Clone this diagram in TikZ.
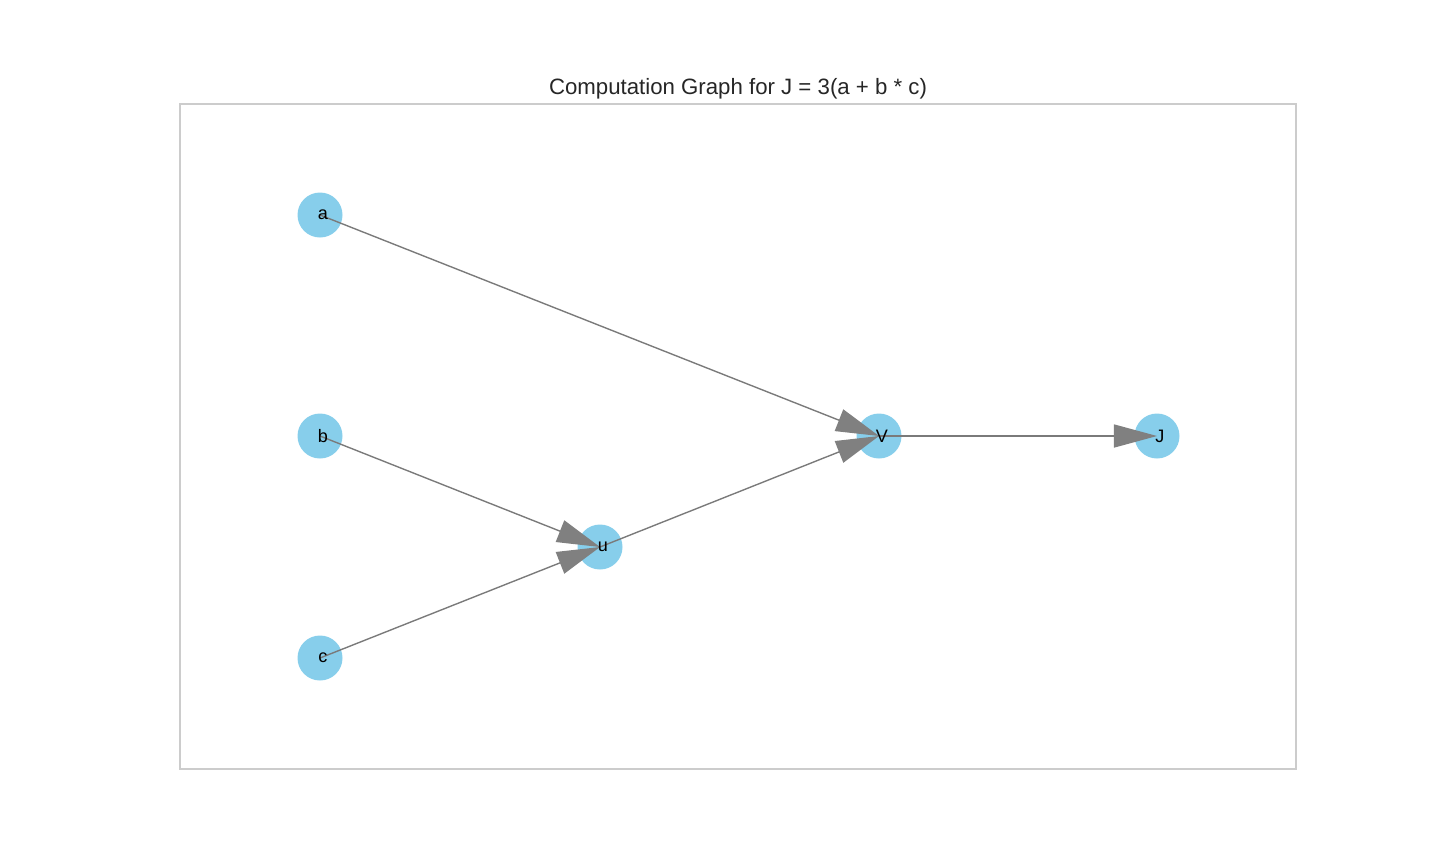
\documentclass[tikz,border=0pt]{standalone}
\usepackage{fontspec}
\setmainfont{Liberation Sans}
\usetikzlibrary{arrows.meta}
\definecolor{skyblue}{HTML}{87CEEB}
\definecolor{edgegray}{HTML}{7A7A7A}
\definecolor{framegray}{HTML}{CCCCCC}
\definecolor{titlegray}{HTML}{262626}
\tikzset{
  varnode/.style={circle, fill=skyblue, minimum size=32.4pt, inner sep=0pt},
  varlabel/.style={font=\fontsize{13}{15}\selectfont, text=black, inner sep=0pt},
  flow/.style={edgegray, line width=1pt,
    -{Triangle[length=31pt, width=16.6pt, fill=gray, color=gray]}}
}
\begin{document}
\begin{tikzpicture}[x=0.72pt, y=-0.72pt]
        \useasboundingbox (0,0) rectangle (1440,864);
        %%%%%%%%%%%%%%%%%%%%%%%% Marco y titulo %%%%%%%%%%%%%%%%%%%%%%%%%%%%%%%%%%%
        \draw[framegray, line width=1.4pt] (180,104) rectangle (1296,769);
        \node[titlegray, font=\fontsize{16}{19}\selectfont] (titulo) at (738,89) {Computation Graph for J = 3(a + b * c)};
        %%%%%%%%%%%%%%%%%%%%%%%% Nodos %%%%%%%%%%%%%%%%%%%%%%%%%%%%%%%%%%%
        \node[varnode] (a) at (320,215) {};
        \node[varnode] (b) at (320,436) {};
        \node[varnode] (c) at (320,658) {};
        \node[varnode] (u) at (600,547) {};
        \node[varnode] (V) at (879,436) {};
        \node[varnode] (J) at (1157,436) {};
        %%%%%%%%%%%%%%%%%%%%%%%% Aristas %%%%%%%%%%%%%%%%%%%%%%%%%%%%%%%%%%%
        \draw[flow] (a.center) -- (V.center);
        \draw[flow] (b.center) -- (u.center);
        \draw[flow] (c.center) -- (u.center);
        \draw[flow] (u.center) -- (V.center);
        \draw[flow] (V.center) -- (J.center);
        %%%%%%%%%%%%%%%%%%%%%%%% Etiquetas %%%%%%%%%%%%%%%%%%%%%%%%%%%%%%%%%%%
        \node[varlabel] (la) at ([xshift=2pt]a) {a};
        \node[varlabel] (lb) at ([xshift=2pt]b) {b};
        \node[varlabel] (lc) at ([xshift=2pt]c) {c};
        \node[varlabel] (lu) at ([xshift=2pt]u) {u};
        \node[varlabel] (lV) at ([xshift=2pt]V) {V};
        \node[varlabel] (lJ) at ([xshift=2pt]J) {J};
\end{tikzpicture}
\end{document}
